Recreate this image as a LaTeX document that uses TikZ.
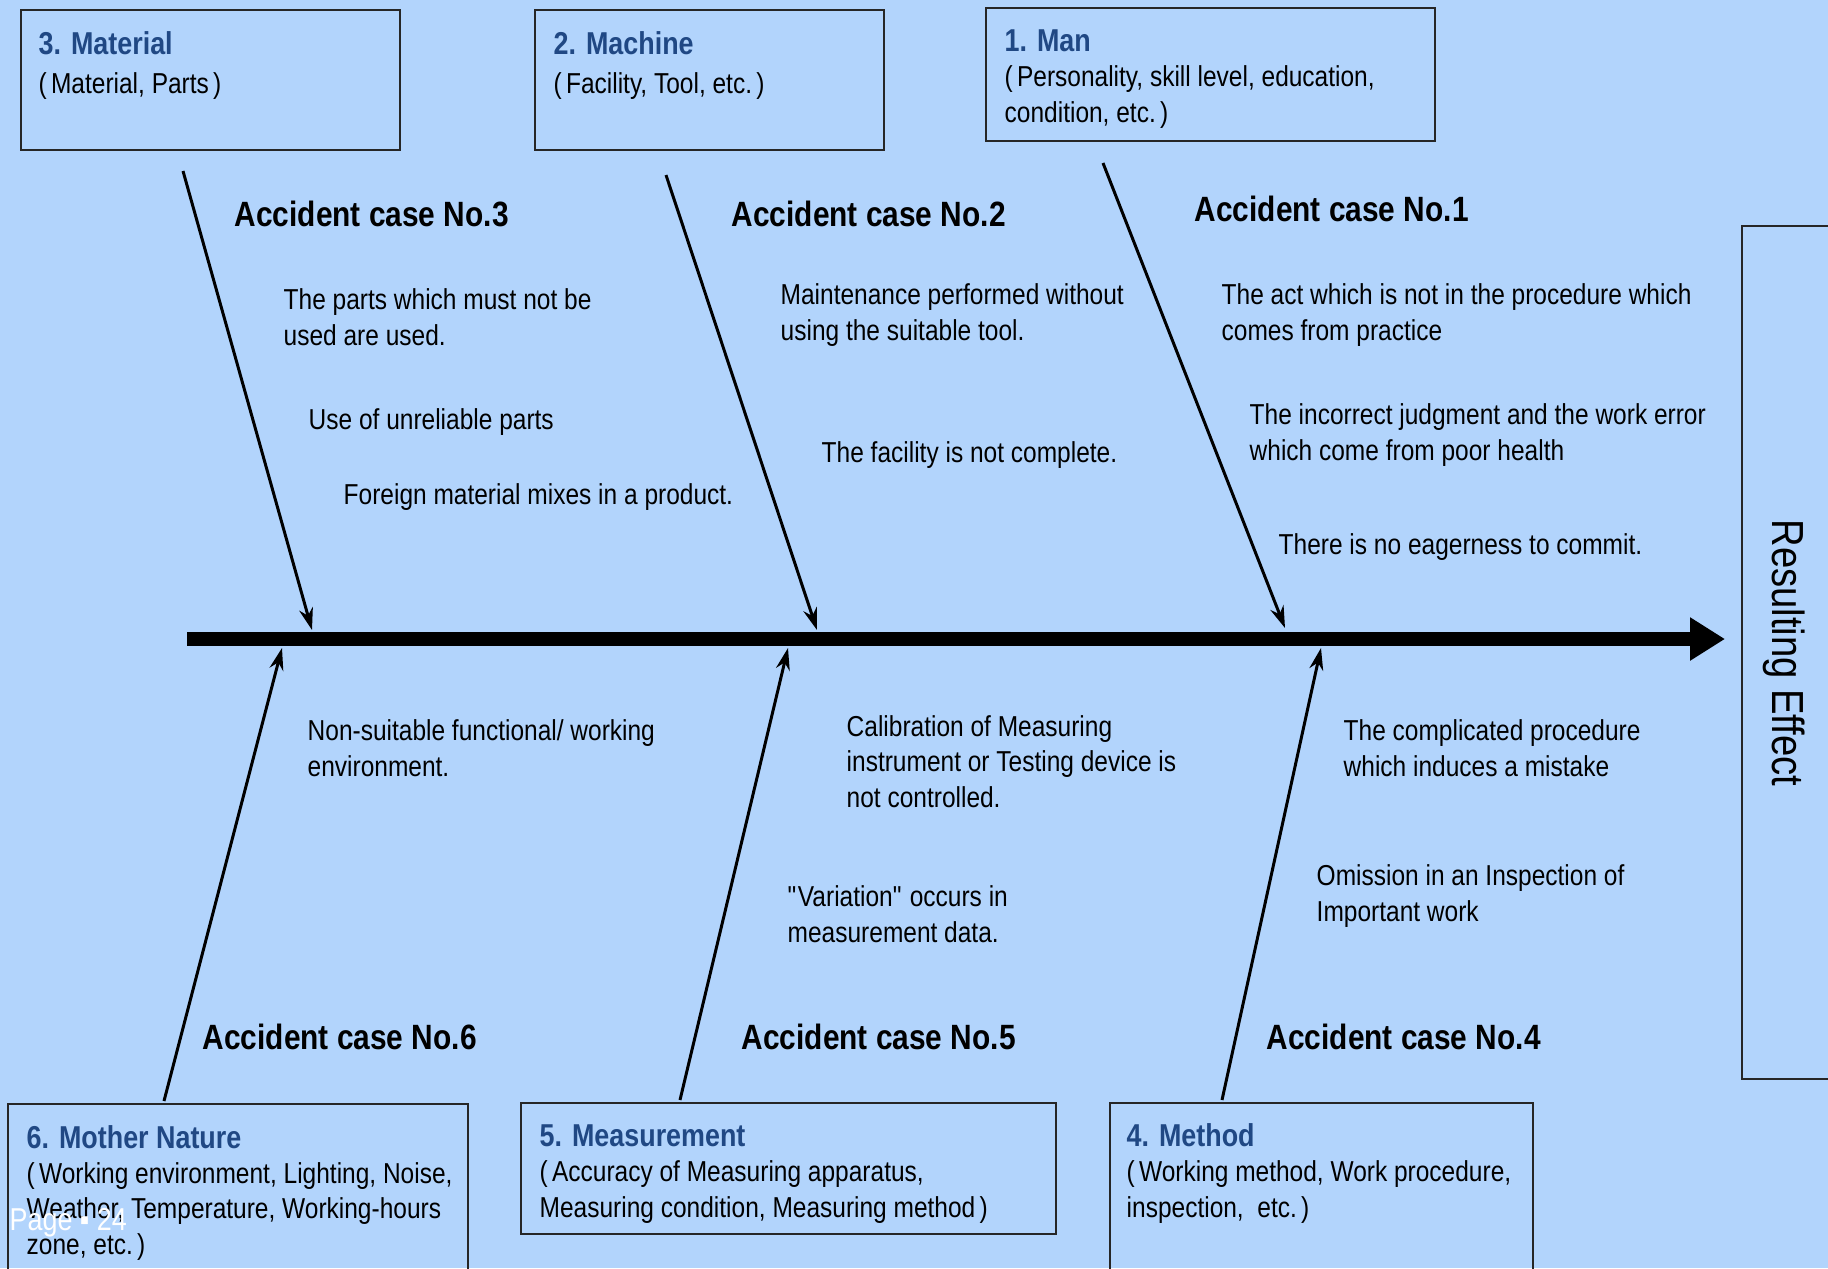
\documentclass[tikz,border=0pt]{standalone}
\usepackage{fontspec}
\setmainfont{Liberation Sans}[FakeStretch=0.85]
\usepackage{xcolor}
\usepackage{tikz}
\usetikzlibrary{arrows.meta,positioning,calc}

\definecolor{fishbg}{RGB}{178,212,252}
\definecolor{titleblue}{RGB}{32,72,132}

% slightly wider brackets, as in the boxes
\newcommand{\wlp}{(\kern1.2pt}
\newcommand{\wrp}{\kern1.2pt)}

\tikzset{
  category node/.style={
    rectangle,
    draw=black!85,
    fill=none,
    line width=0.6pt,
    inner sep=0pt,
    anchor=north west
  }
}
\tikzset{
  category text/.style={
    anchor=base west,
    inner sep=0pt,
    align=left,
    font=\fontsize{8.2}{10}\selectfont
  }
}
\tikzset{
  case label/.style={
    anchor=base west,
    inner sep=0pt,
    font=\bfseries\fontsize{10}{12}\selectfont
  }
}
\tikzset{
  cause text/.style={
    anchor=base west,
    inner sep=0pt,
    align=left,
    font=\fontsize{8.2}{10}\selectfont
  }
}
\tikzset{
  bone/.style={
    -{Stealth[length=2.2mm,width=1.4mm]},
    draw=black,
    line width=0.85pt
  }
}
\tikzset{
  spine/.style={
    -{Triangle[length=3.5mm,width=4.1mm]},
    draw=black,
    line width=1.4mm
  }
}

\begin{document}
\begin{tikzpicture}[x=0.1mm,y=-0.1mm]

    \path[use as bounding box, fill=fishbg] (0,0) rectangle (1828,1268);

    % ------------------------------------------------------------
    % Category boxes (text placed by the baseline of its last line)
    % ------------------------------------------------------------

    \node[category node, minimum width=37.9mm, minimum height=14mm]
      (material) at (20,9) {};
    \node[category text] (material text) at (38,93)
    {
      \textcolor{titleblue}{\bfseries\fontsize{9}{10}\selectfont 3. Material}\\[1pt]
      \wlp Material, Parts\wrp
    };

    \node[category node, minimum width=34.9mm, minimum height=14mm]
      (machine) at (534,9) {};
    \node[category text] (machine text) at (553,93)
    {
      \textcolor{titleblue}{\bfseries\fontsize{9}{10}\selectfont 2. Machine}\\[1pt]
      \wlp Facility, Tool, etc.\wrp
    };

    \node[category node, minimum width=44.9mm, minimum height=13.3mm]
      (man) at (985,7) {};
    \node[category text] (man text) at (1004,122)
    {
      \textcolor{titleblue}{\bfseries\fontsize{9}{10}\selectfont 1. Man}\\
      \wlp Personality, skill level, education,\\
      condition, etc.\wrp
    };

    \node[category node, minimum width=46mm, minimum height=20mm]
      (nature) at (7,1103) {};
    \node[category text] (nature text) at (26,1254)
    {
      \textcolor{titleblue}{\bfseries\fontsize{9}{10}\selectfont 6. Mother Nature}\\
      \wlp Working environment, Lighting, Noise,\\
      Weather, Temperature, Working-hours\\
      zone, etc.\wrp
    };

    \node[category node, minimum width=53.5mm, minimum height=13.1mm]
      (measurement) at (520,1102) {};
    \node[category text] (measurement text) at (539,1217)
    {
      \textcolor{titleblue}{\bfseries\fontsize{9}{10}\selectfont 5. Measurement}\\
      \wlp Accuracy of Measuring apparatus,\\
      Measuring condition, Measuring method\wrp
    };

    \node[category node, minimum width=42.3mm, minimum height=20mm]
      (method) at (1109,1102) {};
    \node[category text] (method text) at (1126,1217)
    {
      \textcolor{titleblue}{\bfseries\fontsize{9}{10}\selectfont 4. Method}\\
      \wlp Working method, Work procedure,\\
      inspection,\ \ etc.\wrp
    };

    % Effect box runs off the right edge
    \node[category node, minimum width=15mm, minimum height=85.3mm]
      (effect) at (1741,225) {};
    \node[rotate=-90, inner sep=0pt, font=\fontsize{12.8}{14}\selectfont]
      (effect text) at (1784,653)
    {
      Resulting Effect
    };

    % ------------------------------------------------------------
    % Spine and bones
    % ------------------------------------------------------------

    \coordinate (tail) at (187,639);
    \coordinate (head) at (1725,639);

    \draw[spine] (tail) -- (head);

    \coordinate (material bone) at (183,171);
    \coordinate (material hit)  at (312,630);
    \coordinate (machine bone)  at (666,175);
    \coordinate (machine hit)   at (817,630);
    \coordinate (man bone)      at (1103,163);
    \coordinate (man hit)       at (1285,628);

    \coordinate (nature bone)      at (164,1101);
    \coordinate (nature hit)       at (282,648);
    \coordinate (measurement bone) at (680,1100);
    \coordinate (measurement hit)  at (788,648);
    \coordinate (method bone)      at (1222,1100);
    \coordinate (method hit)       at (1321,648);

    \draw[bone] (material bone) -- (material hit);
    \draw[bone] (machine bone) -- (machine hit);
    \draw[bone] (man bone) -- (man hit);
    \draw[bone] (nature bone) -- (nature hit);
    \draw[bone] (measurement bone) -- (measurement hit);
    \draw[bone] (method bone) -- (method hit);

    % ------------------------------------------------------------
    % Accident cases
    % ------------------------------------------------------------

    \node[case label] (case3) at (234,226)  {Accident case No.3};
    \node[case label] (case2) at (731,226)  {Accident case No.2};
    \node[case label] (case1) at (1194,221) {Accident case No.1};
    \node[case label] (case6) at (202,1049) {Accident case No.6};
    \node[case label] (case5) at (741,1049) {Accident case No.5};
    \node[case label] (case4) at (1266,1049) {Accident case No.4};

    % ------------------------------------------------------------
    % Causes
    % ------------------------------------------------------------

    \node[cause text] (parts) at (283,345)
    {
      The parts which must not be\\
      used are used.
    };
    \node[cause text] (unreliable) at (308,429)
    {
      Use of unreliable parts
    };
    \node[cause text] (foreign) at (343,504)
    {
      Foreign material mixes in a product.
    };

    \node[cause text] (tool) at (780,340)
    {
      Maintenance performed without\\
      using the suitable tool.
    };
    \node[cause text] (facility) at (821,462)
    {
      The facility is not complete.
    };

    \node[cause text] (practice) at (1221,340)
    {
      The act which is not in the procedure which\\
      comes from practice
    };
    \node[cause text] (health) at (1249,460)
    {
      The incorrect judgment and the work error\\
      which come from poor health
    };
    \node[cause text] (eagerness) at (1278,554)
    {
      There is no eagerness to commit.
    };

    \node[cause text] (environment) at (307,776)
    {
      Non-suitable functional/ working\\
      environment.
    };

    \node[cause text] (calibration) at (846,807)
    {
      Calibration of Measuring\\
      instrument or Testing device is\\
      not controlled.
    };
    \node[cause text] (variation) at (787,942)
    {
      \textquotedbl Variation\textquotedbl\ occurs in\\
      measurement data.
    };

    \node[cause text] (procedure) at (1343,776)
    {
      The complicated procedure\\
      which induces a mistake
    };
    \node[cause text] (omission) at (1316,921)
    {
      Omission in an Inspection of\\
      Important work
    };

    % page number over the lower left box
    \node[cause text, text=white, font=\fontsize{9}{10}\selectfont]
      (page) at (9,1230) {Page ▪ 24};

\end{tikzpicture}
\end{document}
